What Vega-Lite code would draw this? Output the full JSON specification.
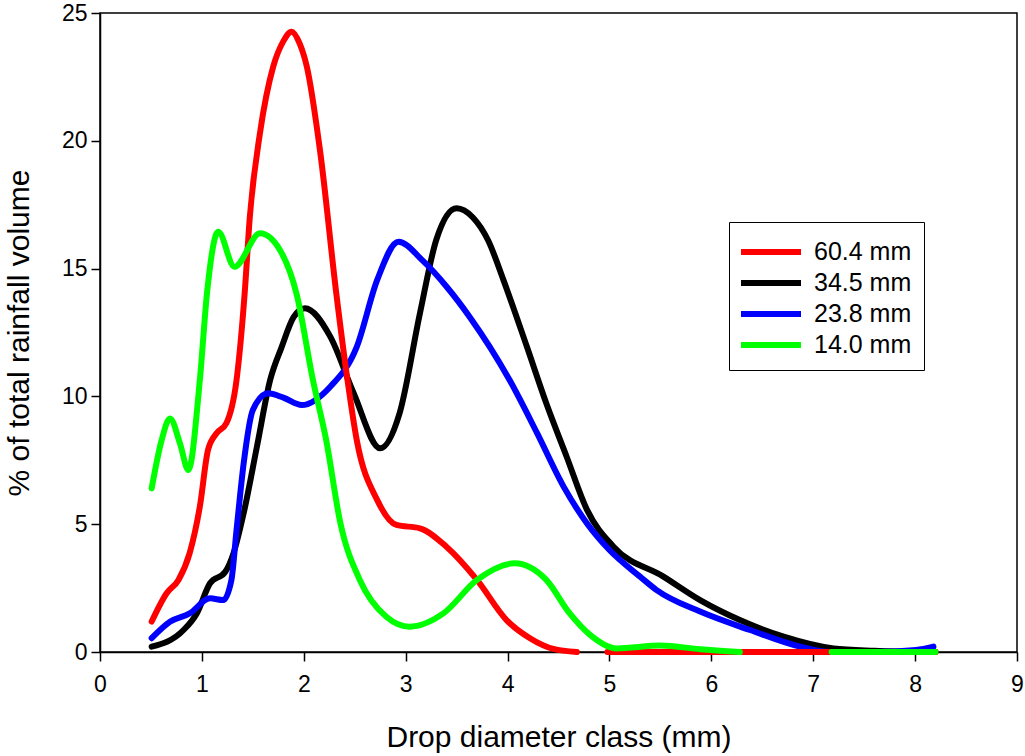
{
  "$schema": "https://vega.github.io/schema/vega-lite/v6.json",
  "autosize": "none",
  "width": 917,
  "height": 639,
  "padding": {"left": 100, "top": 13, "right": 8, "bottom": 104},
  "background": "white",
  "config": {
    "font": "Liberation Sans",
    "view": {"stroke": "black", "strokeWidth": 1.5},
    "axis": {"grid": false, "domainColor": "black", "tickColor": "black", "labelColor": "black", "titleColor": "black", "labelFont": "Liberation Sans", "titleFont": "Liberation Sans", "labelFontSize": 23, "titleFontSize": 30, "titleFontWeight": "normal", "tickSize": 9, "domainWidth": 1.5, "tickWidth": 1.5}
  },
  "data": {
    "values": [
      {"s": "34.5 mm", "g": "a", "d": 0.507, "v": 0.21},
      {"s": "34.5 mm", "g": "a", "d": 0.82, "v": 0.86},
      {"s": "34.5 mm", "g": "a", "d": 0.95, "v": 1.51},
      {"s": "34.5 mm", "g": "a", "d": 1.08, "v": 2.69},
      {"s": "34.5 mm", "g": "a", "d": 1.23, "v": 3.14},
      {"s": "34.5 mm", "g": "a", "d": 1.31, "v": 3.86},
      {"s": "34.5 mm", "g": "a", "d": 1.41, "v": 5.43},
      {"s": "34.5 mm", "g": "a", "d": 1.54, "v": 8.03},
      {"s": "34.5 mm", "g": "a", "d": 1.67, "v": 10.64},
      {"s": "34.5 mm", "g": "a", "d": 1.78, "v": 11.9},
      {"s": "34.5 mm", "g": "a", "d": 1.9, "v": 13.1},
      {"s": "34.5 mm", "g": "a", "d": 2.01, "v": 13.45},
      {"s": "34.5 mm", "g": "a", "d": 2.26, "v": 12.34},
      {"s": "34.5 mm", "g": "a", "d": 2.49, "v": 10.12},
      {"s": "34.5 mm", "g": "a", "d": 2.75, "v": 7.97},
      {"s": "34.5 mm", "g": "a", "d": 2.94, "v": 9.34},
      {"s": "34.5 mm", "g": "a", "d": 3.14, "v": 13.25},
      {"s": "34.5 mm", "g": "a", "d": 3.3, "v": 16.12},
      {"s": "34.5 mm", "g": "a", "d": 3.5, "v": 17.36},
      {"s": "34.5 mm", "g": "a", "d": 3.66, "v": 17.0},
      {"s": "34.5 mm", "g": "a", "d": 3.81, "v": 16.1},
      {"s": "34.5 mm", "g": "a", "d": 3.96, "v": 14.55},
      {"s": "34.5 mm", "g": "a", "d": 4.19, "v": 11.94},
      {"s": "34.5 mm", "g": "a", "d": 4.38, "v": 9.73},
      {"s": "34.5 mm", "g": "a", "d": 4.58, "v": 7.64},
      {"s": "34.5 mm", "g": "a", "d": 4.78, "v": 5.56},
      {"s": "34.5 mm", "g": "a", "d": 5.04, "v": 4.12},
      {"s": "34.5 mm", "g": "a", "d": 5.53, "v": 2.95},
      {"s": "34.5 mm", "g": "a", "d": 5.89, "v": 2.03},
      {"s": "34.5 mm", "g": "a", "d": 6.28, "v": 1.25},
      {"s": "34.5 mm", "g": "a", "d": 6.71, "v": 0.6},
      {"s": "34.5 mm", "g": "a", "d": 7.2, "v": 0.14},
      {"s": "34.5 mm", "g": "a", "d": 7.6, "v": 0.05},
      {"s": "34.5 mm", "g": "a", "d": 8.2, "v": 0.0},

      {"s": "23.8 mm", "g": "a", "d": 0.507, "v": 0.54},
      {"s": "23.8 mm", "g": "a", "d": 0.69, "v": 1.19},
      {"s": "23.8 mm", "g": "a", "d": 0.88, "v": 1.51},
      {"s": "23.8 mm", "g": "a", "d": 1.08, "v": 2.1},
      {"s": "23.8 mm", "g": "a", "d": 1.21, "v": 2.03},
      {"s": "23.8 mm", "g": "a", "d": 1.29, "v": 2.82},
      {"s": "23.8 mm", "g": "a", "d": 1.34, "v": 4.77},
      {"s": "23.8 mm", "g": "a", "d": 1.41, "v": 7.38},
      {"s": "23.8 mm", "g": "a", "d": 1.5, "v": 9.47},
      {"s": "23.8 mm", "g": "a", "d": 1.65, "v": 10.12},
      {"s": "23.8 mm", "g": "a", "d": 1.8, "v": 9.95},
      {"s": "23.8 mm", "g": "a", "d": 1.98, "v": 9.66},
      {"s": "23.8 mm", "g": "a", "d": 2.26, "v": 10.38},
      {"s": "23.8 mm", "g": "a", "d": 2.52, "v": 11.94},
      {"s": "23.8 mm", "g": "a", "d": 2.72, "v": 14.55},
      {"s": "23.8 mm", "g": "a", "d": 2.93, "v": 16.05},
      {"s": "23.8 mm", "g": "a", "d": 3.17, "v": 15.3},
      {"s": "23.8 mm", "g": "a", "d": 3.4, "v": 14.3},
      {"s": "23.8 mm", "g": "a", "d": 3.63, "v": 13.1},
      {"s": "23.8 mm", "g": "a", "d": 4.02, "v": 10.64},
      {"s": "23.8 mm", "g": "a", "d": 4.29, "v": 8.56},
      {"s": "23.8 mm", "g": "a", "d": 4.55, "v": 6.47},
      {"s": "23.8 mm", "g": "a", "d": 4.78, "v": 5.03},
      {"s": "23.8 mm", "g": "a", "d": 5.0, "v": 3.99},
      {"s": "23.8 mm", "g": "a", "d": 5.3, "v": 2.95},
      {"s": "23.8 mm", "g": "a", "d": 5.46, "v": 2.43},
      {"s": "23.8 mm", "g": "a", "d": 5.89, "v": 1.58},
      {"s": "23.8 mm", "g": "a", "d": 6.38, "v": 0.86},
      {"s": "23.8 mm", "g": "a", "d": 6.87, "v": 0.21},
      {"s": "23.8 mm", "g": "a", "d": 7.16, "v": 0.0},
      {"s": "23.8 mm", "g": "a", "d": 7.6, "v": 0.0},
      {"s": "23.8 mm", "g": "a", "d": 8.01, "v": 0.08},
      {"s": "23.8 mm", "g": "a", "d": 8.18, "v": 0.21},

      {"s": "60.4 mm", "g": "a", "d": 0.507, "v": 1.19},
      {"s": "60.4 mm", "g": "a", "d": 0.654, "v": 2.3},
      {"s": "60.4 mm", "g": "a", "d": 0.77, "v": 2.82},
      {"s": "60.4 mm", "g": "a", "d": 0.88, "v": 3.87},
      {"s": "60.4 mm", "g": "a", "d": 0.98, "v": 5.69},
      {"s": "60.4 mm", "g": "a", "d": 1.06, "v": 7.9},
      {"s": "60.4 mm", "g": "a", "d": 1.145, "v": 8.56},
      {"s": "60.4 mm", "g": "a", "d": 1.24, "v": 8.95},
      {"s": "60.4 mm", "g": "a", "d": 1.34, "v": 10.64},
      {"s": "60.4 mm", "g": "a", "d": 1.42, "v": 14.04},
      {"s": "60.4 mm", "g": "a", "d": 1.47, "v": 17.0},
      {"s": "60.4 mm", "g": "a", "d": 1.57, "v": 20.3},
      {"s": "60.4 mm", "g": "a", "d": 1.7, "v": 22.9},
      {"s": "60.4 mm", "g": "a", "d": 1.8, "v": 23.9},
      {"s": "60.4 mm", "g": "a", "d": 1.88, "v": 24.27},
      {"s": "60.4 mm", "g": "a", "d": 1.96, "v": 23.8},
      {"s": "60.4 mm", "g": "a", "d": 2.03, "v": 22.9},
      {"s": "60.4 mm", "g": "a", "d": 2.16, "v": 19.6},
      {"s": "60.4 mm", "g": "a", "d": 2.32, "v": 14.0},
      {"s": "60.4 mm", "g": "a", "d": 2.42, "v": 10.9},
      {"s": "60.4 mm", "g": "a", "d": 2.52, "v": 8.29},
      {"s": "60.4 mm", "g": "a", "d": 2.72, "v": 5.95},
      {"s": "60.4 mm", "g": "a", "d": 2.91, "v": 4.97},
      {"s": "60.4 mm", "g": "a", "d": 3.14, "v": 4.84},
      {"s": "60.4 mm", "g": "a", "d": 3.4, "v": 4.12},
      {"s": "60.4 mm", "g": "a", "d": 3.7, "v": 2.82},
      {"s": "60.4 mm", "g": "a", "d": 3.99, "v": 1.25},
      {"s": "60.4 mm", "g": "a", "d": 4.22, "v": 0.54},
      {"s": "60.4 mm", "g": "a", "d": 4.45, "v": 0.12},
      {"s": "60.4 mm", "g": "a", "d": 4.68, "v": 0.0},
      {"s": "60.4 mm", "g": "b", "d": 4.98, "v": 0.0},
      {"s": "60.4 mm", "g": "b", "d": 6.0, "v": 0.0},
      {"s": "60.4 mm", "g": "b", "d": 7.0, "v": 0.0},
      {"s": "60.4 mm", "g": "b", "d": 8.2, "v": 0.0},

      {"s": "14.0 mm", "g": "a", "d": 0.507, "v": 6.4},
      {"s": "14.0 mm", "g": "a", "d": 0.605, "v": 8.29},
      {"s": "14.0 mm", "g": "a", "d": 0.687, "v": 9.14},
      {"s": "14.0 mm", "g": "a", "d": 0.785, "v": 8.16},
      {"s": "14.0 mm", "g": "a", "d": 0.867, "v": 7.12},
      {"s": "14.0 mm", "g": "a", "d": 0.98, "v": 10.64},
      {"s": "14.0 mm", "g": "a", "d": 1.05, "v": 14.03},
      {"s": "14.0 mm", "g": "a", "d": 1.16, "v": 16.44},
      {"s": "14.0 mm", "g": "a", "d": 1.32, "v": 15.07},
      {"s": "14.0 mm", "g": "a", "d": 1.57, "v": 16.38},
      {"s": "14.0 mm", "g": "a", "d": 1.77, "v": 15.7},
      {"s": "14.0 mm", "g": "a", "d": 1.93, "v": 14.0},
      {"s": "14.0 mm", "g": "a", "d": 2.09, "v": 10.64},
      {"s": "14.0 mm", "g": "a", "d": 2.22, "v": 8.29},
      {"s": "14.0 mm", "g": "a", "d": 2.36, "v": 5.03},
      {"s": "14.0 mm", "g": "a", "d": 2.55, "v": 2.82},
      {"s": "14.0 mm", "g": "a", "d": 2.81, "v": 1.38},
      {"s": "14.0 mm", "g": "a", "d": 3.04, "v": 0.99},
      {"s": "14.0 mm", "g": "a", "d": 3.37, "v": 1.51},
      {"s": "14.0 mm", "g": "a", "d": 3.7, "v": 2.82},
      {"s": "14.0 mm", "g": "a", "d": 4.07, "v": 3.47},
      {"s": "14.0 mm", "g": "a", "d": 4.38, "v": 2.82},
      {"s": "14.0 mm", "g": "a", "d": 4.61, "v": 1.51},
      {"s": "14.0 mm", "g": "a", "d": 4.81, "v": 0.67},
      {"s": "14.0 mm", "g": "a", "d": 5.07, "v": 0.14},
      {"s": "14.0 mm", "g": "a", "d": 5.5, "v": 0.25},
      {"s": "14.0 mm", "g": "a", "d": 5.89, "v": 0.11},
      {"s": "14.0 mm", "g": "a", "d": 6.28, "v": 0.0},
      {"s": "14.0 mm", "g": "b", "d": 7.18, "v": 0.0},
      {"s": "14.0 mm", "g": "b", "d": 8.2, "v": 0.0}
    ]
  },
  "mark": {"type": "line", "interpolate": "monotone", "strokeWidth": 6, "strokeCap": "round", "strokeJoin": "round", "clip": false},
  "encoding": {
    "x": {"field": "d", "type": "quantitative", "title": "Drop diameter class (mm)",
      "scale": {"domain": [0, 9], "nice": false, "zero": true},
      "axis": {"values": [0,1,2,3,4,5,6,7,8,9], "labelPadding": 12, "titlePadding": 26, "labelFlush": false}},
    "y": {"field": "v", "type": "quantitative", "title": "% of total rainfall volume",
      "scale": {"domain": [0, 25], "nice": false},
      "axis": {"values": [0,5,10,15,20,25], "labelPadding": 4, "titlePadding": 27, "labelFlush": false}},
    "color": {"field": "s", "type": "nominal",
      "scale": {"domain": ["60.4 mm", "34.5 mm", "23.8 mm", "14.0 mm"], "range": ["#ff0000", "#000000", "#0000ff", "#00ff00"]},
      "legend": {"title": null, "orient": "none", "legendX": 629, "legendY": 209, "padding": 12, "strokeColor": "black", "fillColor": "white",
        "symbolType": "M-1.2,0H2.8", "symbolStrokeWidth": 6, "symbolStrokeCap": "round", "symbolSize": 900, "labelFontSize": 25, "labelColor": "black", "labelFont": "Liberation Sans", "labelOffset": 37, "rowPadding": 0}},
    "detail": {"field": "g", "type": "nominal"}
  }
}
